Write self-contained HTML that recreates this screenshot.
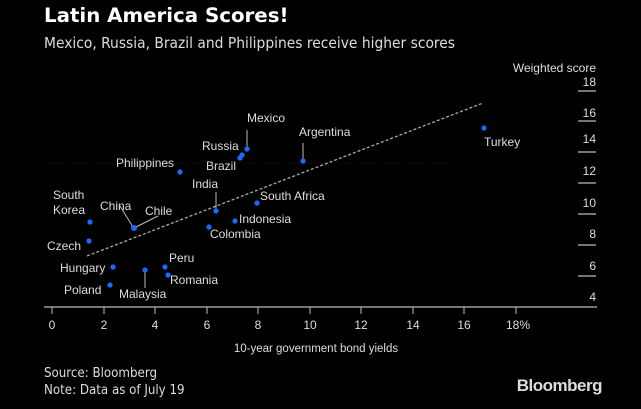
<!DOCTYPE html>
<html><head><meta charset="utf-8"><style>
body{margin:0;background:#000;}
svg{display:block;font-family:"Liberation Sans",sans-serif;}
</style></head><body>
<svg width="641" height="409" xmlns="http://www.w3.org/2000/svg">
<rect width="641" height="409" fill="#000"/>
<text x="44" y="22" fill="#fff" font-size="19.8" font-weight="bold" font-family="DejaVu Sans, sans-serif">Latin America Scores!</text>
<text x="44" y="48" fill="#ddd" font-size="15.4" font-family="DejaVu Sans Condensed, DejaVu Sans, sans-serif">Mexico, Russia, Brazil and Philippines receive higher scores</text>
<g fill="#ddd" font-size="12" text-anchor="end">
<text x="596" y="72">Weighted score</text>
<text x="596" y="86">18</text><text x="596" y="117">16</text><text x="596" y="143">14</text>
<text x="596" y="175">12</text><text x="596" y="207">10</text><text x="596" y="238">8</text>
<text x="596" y="270">6</text><text x="596" y="301">4</text>
</g>
<g stroke="#bbb" stroke-width="1.2">
<line x1="578" x2="596" y1="91" y2="91"/><line x1="578" x2="596" y1="121" y2="121"/>
<line x1="578" x2="596" y1="152" y2="152"/><line x1="578" x2="596" y1="183" y2="183"/>
<line x1="578" x2="596" y1="214" y2="214"/><line x1="578" x2="596" y1="245" y2="245"/>
<line x1="578" x2="596" y1="276" y2="276"/>
</g>
<line x1="45" x2="460" y1="163" y2="163" stroke="#1a1a1a" stroke-dasharray="1 2"/>
<line x1="44" x2="597" y1="307" y2="307" stroke="#bbb" stroke-width="1.2"/>
<g stroke="#bbb">
<line x1="52" x2="52" y1="307" y2="314"/><line x1="104" x2="104" y1="307" y2="314"/>
<line x1="155" x2="155" y1="307" y2="314"/><line x1="207" x2="207" y1="307" y2="314"/>
<line x1="258" x2="258" y1="307" y2="314"/><line x1="310" x2="310" y1="307" y2="314"/>
<line x1="361" x2="361" y1="307" y2="314"/><line x1="413" x2="413" y1="307" y2="314"/>
<line x1="464" x2="464" y1="307" y2="314"/><line x1="516" x2="516" y1="307" y2="314"/>
</g>
<g fill="#ddd" font-size="12" text-anchor="middle">
<text x="52" y="329">0</text><text x="104" y="329">2</text><text x="155" y="329">4</text>
<text x="207" y="329">6</text><text x="258" y="329">8</text><text x="310" y="329">10</text>
<text x="361" y="329">12</text><text x="413" y="329">14</text><text x="464" y="329">16</text>
<text x="518" y="329">18%</text>
<text x="316" y="352" font-size="11.5">10-year government bond yields</text>
</g>
<line x1="87" y1="256" x2="483" y2="103" stroke="#aaa" stroke-width="1.3" stroke-dasharray="3 2"/>
<g stroke="#bbb" stroke-width="1">
<line x1="247" y1="130" x2="247" y2="148"/>
<line x1="303" y1="143" x2="303" y2="160"/>
<line x1="216" y1="192" x2="216" y2="209"/>
<line x1="120" y1="206" x2="133" y2="227"/>
<line x1="158" y1="216" x2="136" y2="227"/>
<line x1="145" y1="271" x2="145" y2="288"/>
</g>
<g fill="#1a6bff">
<circle cx="484" cy="128" r="2.6"/><circle cx="247" cy="149" r="2.6"/><circle cx="303" cy="161" r="2.6"/>
<circle cx="242" cy="155" r="2.6"/><circle cx="240" cy="158" r="2.6"/><circle cx="180" cy="172" r="2.6"/>
<circle cx="216" cy="211" r="2.6"/><circle cx="257" cy="203" r="2.6"/><circle cx="235" cy="221" r="2.6"/>
<circle cx="209" cy="227" r="2.6"/><circle cx="90" cy="222" r="2.6"/><circle cx="134" cy="228" r="3"/>
<circle cx="89" cy="241" r="2.6"/><circle cx="113" cy="267" r="2.6"/><circle cx="145" cy="270" r="2.6"/>
<circle cx="165" cy="267" r="2.6"/><circle cx="168" cy="275" r="2.6"/><circle cx="110" cy="285" r="2.6"/>
</g>
<g fill="#ddd" font-size="12">
<text x="484" y="146">Turkey</text>
<text x="247" y="122">Mexico</text>
<text x="299" y="136">Argentina</text>
<text x="202" y="150">Russia</text>
<text x="206" y="170">Brazil</text>
<text x="116" y="167">Philippines</text>
<text x="192" y="188">India</text>
<text x="260" y="200">South Africa</text>
<text x="239" y="223">Indonesia</text>
<text x="210" y="238">Colombia</text>
<text x="53" y="199">South</text>
<text x="53" y="214">Korea</text>
<text x="100" y="210">China</text>
<text x="145" y="215">Chile</text>
<text x="47" y="250">Czech</text>
<text x="60" y="272">Hungary</text>
<text x="169" y="262">Peru</text>
<text x="170" y="284">Romania</text>
<text x="64" y="294">Poland</text>
<text x="119" y="298">Malaysia</text>
</g>
<g fill="#ddd" font-size="13.2" font-family="DejaVu Sans Condensed, DejaVu Sans, sans-serif">
<text x="44" y="377">Source: Bloomberg</text>
<text x="44" y="394">Note: Data as of July 19</text>
</g>
<text x="602" y="391" fill="#ddd" font-size="17" font-weight="bold" text-anchor="end" letter-spacing="-0.5">Bloomberg</text>
</svg>
</body></html>
